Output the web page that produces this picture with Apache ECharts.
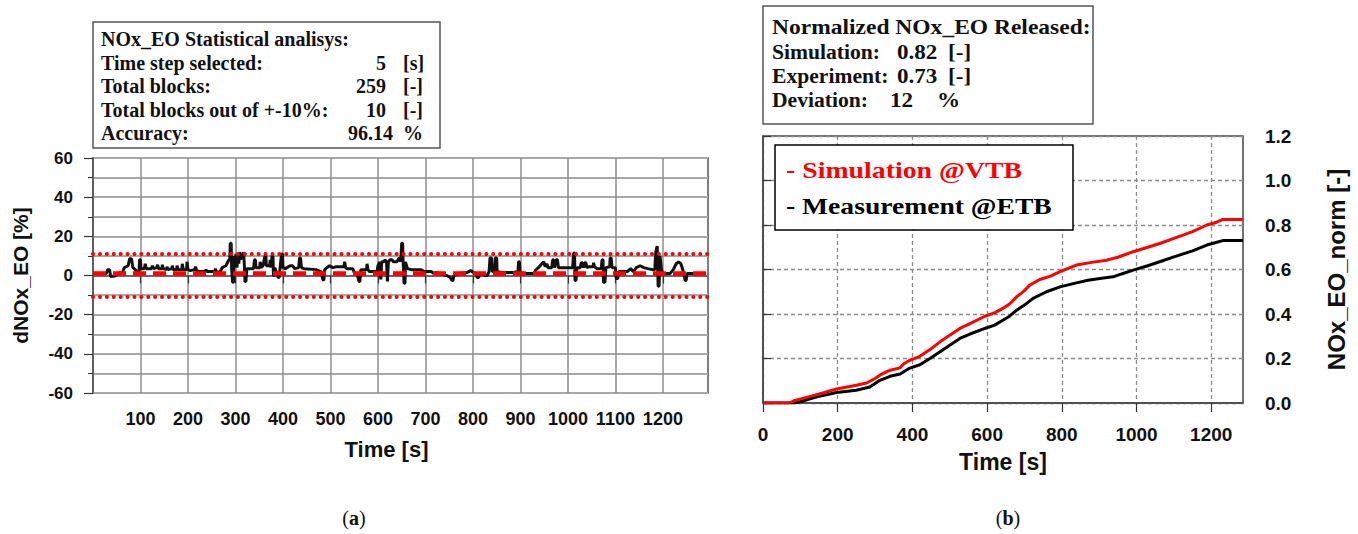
<!DOCTYPE html>
<html><head><meta charset="utf-8">
<script src="https://cdn.jsdelivr.net/npm/echarts@6/dist/echarts.min.js"></script>
<style>html,body{margin:0;padding:0;background:#fff;}#c{width:1358px;height:534px;}</style>
</head><body><div id="c"></div>
<script>
// ---- Panel (a): dNOx_EO per block [time s, %] ----
const dnoxPoints = [
[20,1],[28,1],[31,3],[35,3],[37,-0.5],[47,-0.3],[52,1],[62,1.5],[66,4],[74,5],[77,8.5],[81,8.5],[84,4],[89,3],[92,2],[97,2],[98,8],[100,8],[101,3.5],[108,3.5],[110,6],[112,3.5],[123,3.5],[125,5],[127,3.5],[134,4],[136,5.5],[138,3.5],[145,3.5],[146,5.5],[148,3.5],[155,3],[156,4.5],[158,3],[166,3.5],[167,5],[169,3],[176,3],[177,5],[179,3],[187,3],[188,6],[190,3],[197,3],[198,7],[200,3],[205,2.5],[214,3],[216,4.5],[218,2.5],[226,2],[236,2],[238,3],[240,2],[256,2],[258,3.5],[260,1.5],[268,2],[272,4],[280,5],[283,6.5],[286,8],[288,8],[289,16.5],[291,16.5],[292,3],[294,-3.5],[296,-3.5],[297,10],[299,7],[301,11],[303,4],[305,9],[307,6],[309,12],[311,8],[313,11],[315,10],[317,12],[319,4],[320,-3],[322,-3],[324,3.5],[338,3.5],[340,8],[342,8],[343,4],[351,4],[352,7],[354,4],[358,5],[362,10],[364,10],[365,5],[372,5],[373,8],[375,4],[377,10],[379,10],[380,0],[382,0],[383,4],[390,-1],[392,-1],[394,4],[397,11],[399,11],[400,4],[405,3.5],[415,5],[420,5],[425,3.5],[433,4],[435,9],[437,9],[439,4],[444,3.5],[470,3],[480,2],[484,-2],[486,-2.5],[488,3],[490,3.5],[498,5],[505,4],[512,4.5],[528,4.5],[530,7],[532,4],[535,3.5],[547,3.5],[551,1],[556,1],[560,-3],[562,-3],[564,3],[567,3],[576,3],[577,6],[579,3],[582,2],[598,2],[600,5],[604,7],[606,-2],[608,7],[612,7],[615,8],[618,7],[620,-3],[622,7],[625,8],[630,8],[632,7],[640,7],[645,9],[648,7],[650,16.5],[652,16.5],[653,7],[655,-4],[657,-4],[658,7],[662,3.5],[670,3],[690,3],[697,2],[712,2],[718,1],[725,1.5],[735,0.5],[745,0],[752,-1],[756,-2.5],[758,-2.5],[760,0],[770,1],[788,1.5],[795,2.5],[805,1],[809,-1],[812,-1],[816,1],[826,0],[830,0],[834,2],[836,9],[839,9],[841,2],[846,2],[847,9],[850,9],[851,2],[860,1.5],[885,1.5],[895,2],[896,7],[898,7],[899,2],[903,1],[928,1],[933,3],[938,4],[945,6],[949,7],[952,4.5],[956,6],[958,4],[966,4],[968,8],[970,8],[972,4],[975,8],[978,8],[980,4],[990,4],[1010,4],[1012,11.5],[1014,11.5],[1015,-2.5],[1017,-2.5],[1019,4],[1026,4],[1028,6.5],[1031,6.5],[1033,4],[1035,6.5],[1038,6.5],[1040,4],[1044,4.5],[1053,4.5],[1054,6.5],[1056,4.5],[1061,3.5],[1070,3.5],[1072,8],[1074,8],[1075,-3.5],[1078,-3.5],[1080,4],[1088,4.5],[1089,9],[1091,9],[1093,4],[1100,4],[1102,-1.5],[1105,-1.5],[1107,2],[1125,2],[1132,3.5],[1138,2],[1144,4],[1152,5],[1160,4],[1168,3.5],[1178,3],[1183,3],[1185,12],[1188,15],[1190,-5.5],[1192,-5.5],[1194,10],[1197,3],[1200,1],[1215,1],[1222,3],[1228,6],[1233,7],[1238,6],[1243,2],[1247,-2.5],[1249,-2.5],[1251,1],[1290,1]
];
const centerLevel = 1;
const bandUpper = 11;
const bandLower = -11;
const leftXMax = 1295;
const leftXTicks = [100,200,300,400,500,600,700,800,900,1000,1100,1200];

// ---- Panel (b): normalized cumulative NOx_EO ----
const simName = 'Simulation @VTB';
const measName = 'Measurement @ETB';
const simPoints = [[0,0],[70,0],[83,0.01],[127,0.03],[160,0.045],[197,0.063],[250,0.08],[277,0.09],[300,0.11],[313,0.125],[330,0.14],[340,0.147],[367,0.158],[376,0.175],[393,0.192],[420,0.21],[447,0.24],[474,0.275],[500,0.305],[527,0.335],[554,0.357],[594,0.39],[620,0.405],[642,0.425],[660,0.445],[679,0.477],[700,0.505],[714,0.53],[741,0.555],[770,0.57],[795,0.59],[839,0.62],[880,0.632],[920,0.642],[950,0.655],[991,0.68],[1030,0.7],[1062,0.717],[1100,0.74],[1150,0.77],[1188,0.8],[1210,0.81],[1231,0.825],[1285,0.825]];
const measPoints = [[0,0],[85,0],[104,0.008],[144,0.028],[197,0.047],[250,0.057],[286,0.072],[313,0.102],[340,0.12],[367,0.13],[393,0.157],[420,0.172],[447,0.2],[474,0.23],[500,0.26],[527,0.29],[554,0.31],[594,0.335],[620,0.35],[642,0.372],[660,0.39],[679,0.417],[700,0.44],[723,0.47],[759,0.5],[795,0.522],[839,0.54],[870,0.552],[902,0.56],[937,0.567],[960,0.58],[991,0.597],[1030,0.617],[1062,0.635],[1100,0.657],[1150,0.684],[1188,0.71],[1210,0.72],[1231,0.73],[1285,0.73]];
const rightXMax = 1285;
const rightXTicks = [0,200,400,600,800,1000,1200];

// ---- Text boxes ----
const statTitle = 'NOx_EO Statistical analisys:';
const statLabels = ['Time step selected:','Total blocks:','Total blocks out of +-10%:','Accuracy:'];
const statValues = ['5','259','10','96.14'];
const statUnits = ['[s]','[-]','[-]','%'];
const relTitle = 'Normalized NOx_EO Released:';
const relLabels = ['Simulation:','Experiment:','Deviation:'];
const relValues = ['0.82','0.73','12'];
const relUnits = ['[-]','[-]','%'];

const SANS = '"Liberation Sans", Arial, sans-serif';
const SERIF = '"Liberation Serif", "Times New Roman", serif';
const boxFont = 'bold 20px ' + SERIF;
const relFont = 'bold 21px ' + SERIF;
const legFont = 'bold 23px ' + SERIF;

const chart = echarts.init(document.getElementById('c'), null, {renderer: 'svg'});

function txt(text, x, y, font, align, sx, color) {
  return {type:'text', x:x, y:y, scaleX:sx || 1, z:10,
    style:{text:text, x:0, y:0, font:font, fill:color || '#111', align:align, verticalAlign:'middle'}};
}

const graphics = [];
graphics.push({type:'rect', shape:{x:93,y:22,width:347,height:126}, style:{fill:'#fff',stroke:'#555',lineWidth:1.5}});
graphics.push(txt(statTitle, 101, 39, boxFont, 'left'));
const statY = [63, 86, 110, 133];
statLabels.forEach((l,i)=>{
  graphics.push(txt(l, 101, statY[i], boxFont, 'left'));
  graphics.push(txt(statValues[i], (i===3?393:386), statY[i], boxFont, 'right'));
  graphics.push(txt(statUnits[i], 403, statY[i], boxFont, 'left'));
});
graphics.push({type:'rect', shape:{x:763,y:6,width:330,height:118}, style:{fill:'#fff',stroke:'#555',lineWidth:1.5}});
graphics.push(txt(relTitle, 772, 27, relFont, 'left', 1.12));
const relY = [52, 76, 100];
const relValX = [897, 897, 890];
const relUnitX = [948, 948, 937];
relLabels.forEach((l,i)=>{
  graphics.push(txt(l, 772, relY[i], relFont, 'left', 1.03));
  graphics.push(txt(relValues[i], relValX[i], relY[i], relFont, 'left', 1.1));
  graphics.push(txt(relUnits[i], relUnitX[i], relY[i], relFont, 'left', 1.1));
});
// legend of panel (b)
graphics.push({type:'rect', z:9, shape:{x:775,y:145,width:298,height:85}, style:{fill:'#fff',stroke:'#000',lineWidth:1.5}});
graphics.push(txt('- ' + simName, 786, 170, legFont, 'left', 1.21, '#ff0000'));
graphics.push(txt('- ' + measName, 786, 206, legFont, 'left', 1.2, '#000'));
// captions
graphics.push({type:'text', style:{text:'({b|a})', x:354, y:518, font:'20px '+SERIF, fill:'#111', align:'center', verticalAlign:'middle', rich:{b:{fontWeight:'bold', fontSize:20, fontFamily:SERIF}}}});
graphics.push({type:'text', style:{text:'({b|b})', x:1008, y:518, font:'20px '+SERIF, fill:'#111', align:'center', verticalAlign:'middle', rich:{b:{fontWeight:'bold', fontSize:20, fontFamily:SERIF}}}});

const plain = v => String(v);

chart.setOption({
  backgroundColor:'#fff',
  animation:false,
  graphic: graphics,
  grid:[
    {left:93, top:158, width:615, height:235, show:true, borderColor:'#555', borderWidth:1.5, backgroundColor:'transparent'},
    {left:763, top:136, width:480, height:267, show:true, borderColor:'#444', borderWidth:1.5, backgroundColor:'transparent'}
  ],
  xAxis:[
    {type:'value', gridIndex:0, min:0, max:leftXMax, interval:100, position:'bottom', offset:3,
     axisLine:{show:true, lineStyle:{color:'#555', width:1.5}},
     axisTick:{show:true, length:8, customValues:leftXTicks, lineStyle:{color:'#333', width:1.2}},
     axisLabel:{customValues:leftXTicks, formatter:plain, fontFamily:SANS, fontWeight:'bold', fontSize:18, color:'#111', margin:14},
     splitLine:{show:true, lineStyle:{color:'#8e8e8e', width:1.5}},
     name:'Time [s]', nameLocation:'middle', nameGap:42,
     nameTextStyle:{fontFamily:SANS, fontWeight:'bold', fontSize:22, color:'#111', padding:[0,28,0,0]}},
    {type:'value', gridIndex:1, min:0, max:rightXMax, interval:200, position:'bottom', offset:5,
     axisLine:{show:true, lineStyle:{color:'#444', width:1.5}},
     axisTick:{show:true, length:9, customValues:rightXTicks, lineStyle:{color:'#333', width:1.2}},
     axisLabel:{customValues:rightXTicks, formatter:plain, fontFamily:SANS, fontWeight:'bold', fontSize:19, color:'#111', margin:17},
     splitLine:{show:true, lineStyle:{color:'#8a8a8a', width:1.3, type:[4,3]}},
     name:'Time [s]', nameLocation:'middle', nameGap:42,
     nameTextStyle:{fontFamily:SANS, fontWeight:'bold', fontSize:23, color:'#111'}}
  ],
  yAxis:[
    {type:'value', gridIndex:0, min:-60, max:60, interval:20, offset:7,
     axisLine:{show:true, lineStyle:{color:'#555', width:1.5}},
     axisTick:{show:true, length:9, lineStyle:{color:'#333', width:1.2}},
     minorTick:{show:true, splitNumber:2, length:5, lineStyle:{color:'#333', width:1}},
     axisLabel:{fontFamily:SANS, fontWeight:'bold', fontSize:17, color:'#111', margin:13},
     splitLine:{show:true, lineStyle:{color:'#a8a8a8', width:2}},
     minorSplitLine:{show:true, lineStyle:{color:'#a8a8a8', width:2}},
     name:'dNOx_EO [%]', nameLocation:'middle', nameGap:55,
     nameTextStyle:{fontFamily:SANS, fontWeight:'bold', fontSize:21, color:'#111'}},
    {type:'value', gridIndex:1, position:'right', min:0, max:1.2, interval:0.2, offset:10,
     axisLine:{show:true, lineStyle:{color:'#444', width:1.5}},
     axisTick:{show:true, length:8, lineStyle:{color:'#333', width:1.2}},
     axisLabel:{fontFamily:SANS, fontWeight:'bold', fontSize:19, color:'#111', margin:12, formatter: v => v.toFixed(1)},
     splitLine:{show:true, lineStyle:{color:'#8a8a8a', width:1.3, type:[4,3]}},
     name:'NOx_EO_norm [-]', nameLocation:'middle', nameGap:71,
     nameTextStyle:{fontFamily:SANS, fontWeight:'bold', fontSize:24, color:'#111'}}
  ],
  series:[
    {type:'line', name:'dNOx_EO', xAxisIndex:0, yAxisIndex:0, data:dnoxPoints, showSymbol:false, symbol:'none',
     lineStyle:{color:'#111', width:3}, z:3},
    {type:'line', name:'mean', xAxisIndex:0, yAxisIndex:0, data:[[0,centerLevel],[leftXMax,centerLevel]], symbol:'none',
     lineStyle:{color:'#ff0000', width:4.5, type:[13,7]}, z:4},
    {type:'line', name:'upper', xAxisIndex:0, yAxisIndex:0, data:[[0,bandUpper],[leftXMax,bandUpper]], symbol:'none',
     lineStyle:{color:'#ff0000', width:4, type:[0.1,6.8], cap:'round'}, z:4},
    {type:'line', name:'lower', xAxisIndex:0, yAxisIndex:0, data:[[0,bandLower],[leftXMax,bandLower]], symbol:'none',
     lineStyle:{color:'#ff0000', width:4, type:[0.1,6.8], cap:'round'}, z:4},
    {type:'line', name:measName, xAxisIndex:1, yAxisIndex:1, data:measPoints, symbol:'none',
     lineStyle:{color:'#000', width:3}, z:3},
    {type:'line', name:simName, xAxisIndex:1, yAxisIndex:1, data:simPoints, symbol:'none',
     lineStyle:{color:'#ff0000', width:3}, z:4}
  ]
});
</script></body></html>
